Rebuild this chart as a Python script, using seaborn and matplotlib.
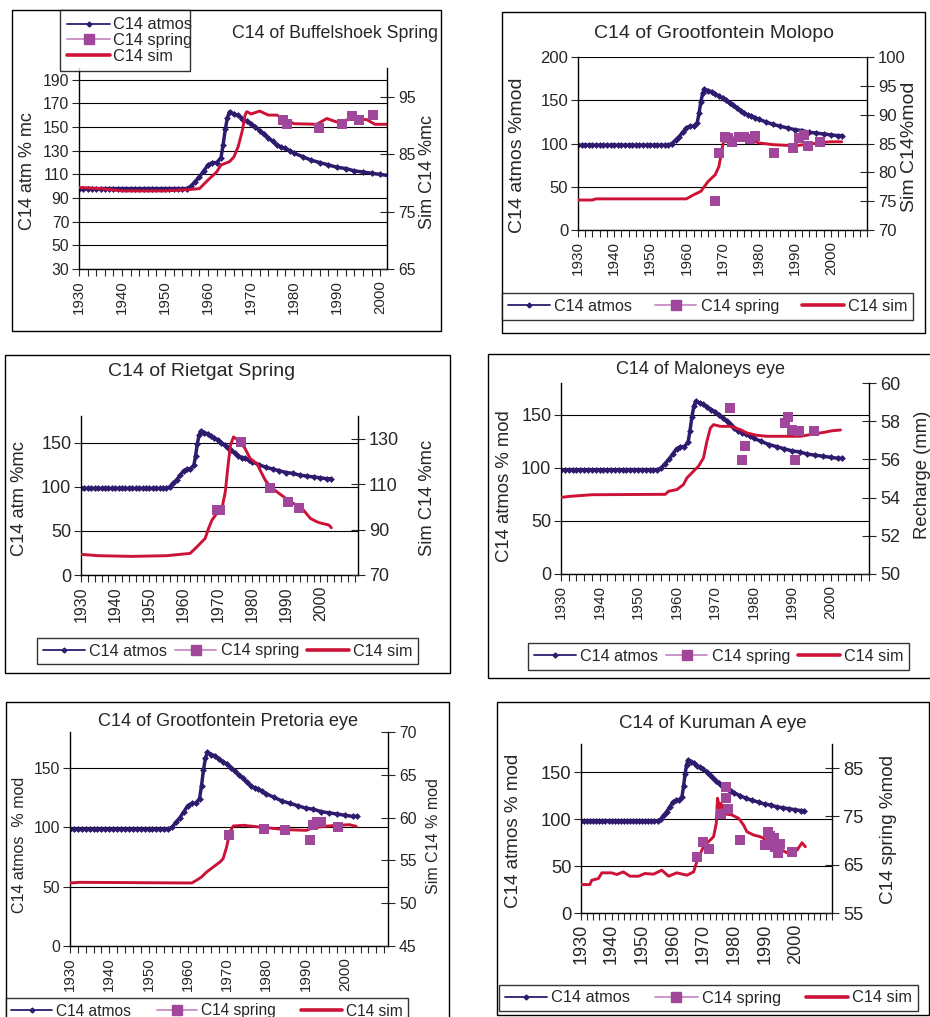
"""
C14 of six springs: atmospheric C14, measured spring C14 and simulated C14.
Six boxed panels, each with a twin y-axis.
"""

import matplotlib
matplotlib.use('Agg')
import matplotlib.pyplot as plt
from matplotlib.lines import Line2D
from matplotlib.patches import Rectangle
from matplotlib.ticker import MultipleLocator
import seaborn as sns

# ---------------------------------------------------------------- data
# atmospheric C14 (% modern), shared by all panels
atmos_year = [1930, 1931, 1932, 1933, 1934, 1935, 1936, 1937, 1938, 1939,
              1940, 1941, 1942, 1943, 1944, 1945, 1946, 1947, 1948, 1949,
              1950, 1951, 1952, 1953, 1954, 1955, 1956, 1957, 1958, 1959,
              1960, 1961, 1962, 1963, 1963.5, 1964, 1964.5, 1965, 1966, 1967,
              1968, 1969, 1970, 1971, 1972, 1973, 1974, 1975, 1976, 1977,
              1978, 1979, 1980, 1982, 1984, 1986, 1988, 1990, 1992, 1994,
              1996, 1998, 2000, 2002, 2003]
atmos_value = [98, 98, 98, 98, 98, 98, 98, 98, 98, 98,
               98, 98, 98, 98, 98, 98, 98, 98, 98, 98,
               98, 98, 98, 98, 98, 98, 100, 104, 108, 113,
               118, 120, 120, 124, 135, 148, 158, 163, 161, 160,
               157, 155, 153, 150, 147, 144, 141, 138, 135, 133,
               132, 130, 128, 125, 122, 120, 118, 116, 115, 113,
               112, 111, 110, 109, 109]

# Buffelshoek Spring
buff_sim_year = [1930, 1935, 1940, 1950, 1955, 1958, 1960, 1962, 1963, 1965,
                 1966, 1967, 1968, 1968.6, 1969, 1970, 1972, 1974, 1976, 1976.7,
                 1980, 1985.3, 1987.6, 1989.9, 1994, 1996.9, 1998.8, 2001.6]
buff_sim_value = [79.2, 79.0, 78.6, 78.6, 78.8, 79.0, 80.5, 81.9, 83.1, 83.7,
                  84.5, 86.3, 89.2, 91.8, 92.4, 92.0, 92.5, 91.8, 91.8, 91.5,
                  90.3, 90.2, 91.2, 90.6, 91.2, 91.0, 90.2, 90.2]
buff_spring_year = [1977.4, 1978.3, 1985.7, 1991.1, 1993.4, 1995.0, 1998.4]
buff_spring_value = [90.9, 90.3, 89.6, 90.3, 91.6, 91.0, 91.9]

# Grootfontein Molopo
molo_sim_year = [1930, 1934, 1935, 1960, 1962, 1964, 1966, 1968, 1969, 1969.5,
                 1970, 1970.5, 1972, 1975, 1978, 1980, 1984, 1990, 1994, 1998,
                 2000, 2003]
molo_sim_value = [75.2, 75.2, 75.4, 75.4, 76.1, 76.7, 78.4, 79.6, 81.0, 82.7,
                  84.5, 85.9, 86.1, 85.7, 85.6, 85.1, 84.8, 84.6, 84.9, 85.2,
                  85.3, 85.3]
molo_spring_year = [1967.9, 1969.0, 1970.6, 1971.4, 1972.7, 1974.6, 1976.0,
                    1977.6, 1978.9, 1984.3, 1989.4, 1991.2, 1992.6, 1993.7, 1997.1]
molo_spring_value = [75.0, 83.4, 86.2, 86.0, 85.2, 86.1, 86.1,
                     85.7, 86.3, 83.4, 84.3, 85.9, 86.5, 84.5, 85.3]

# Rietgat Spring
riet_sim_year = [1930, 1935, 1945, 1955, 1959.1, 1961.9, 1963.9, 1966.3, 1967.3,
                 1968.3, 1969.7, 1971.2, 1972.2, 1972.9, 1973.7, 1974.6, 1976.6,
                 1978.0, 1979.5, 1981.5, 1982.4, 1983.9, 1985.4, 1987.3, 1989.3,
                 1991.2, 1993.2, 1995.1, 1997.1, 1999.0, 2000.5, 2002.5, 2003.2]
riet_sim_value = [79.1, 78.5, 78.2, 78.5, 79.1, 79.5, 82.4, 86.1, 90.5,
                  94.2, 97.1, 99.3, 106.6, 116.9, 127.1, 130.8, 128.6,
                  125.6, 121.2, 119.0, 116.1, 111.7, 108.8, 106.6, 104.4,
                  102.2, 100.7, 98.5, 94.9, 93.4, 92.7, 92.0, 90.8]
riet_spring_year = [1969.7, 1970.7, 1976.8, 1985.2, 1990.4, 1993.7]
riet_spring_value = [98.6, 98.6, 128.6, 108.1, 102.2, 99.6]

# Maloneys eye
malo_sim_year = [1930, 1932, 1938, 1955, 1957.1, 1957.9, 1960.1, 1961.8, 1962.7,
                 1964.4, 1965.7, 1967.0, 1967.9, 1968.8, 1969.6, 1971.4, 1974.0,
                 1976.6, 1978.3, 1980.9, 1983.5, 1988.7, 1992.2, 1995.7, 1998.7,
                 2000.4, 2002.6]
malo_sim_value = [54.01, 54.06, 54.15, 54.17, 54.17, 54.33, 54.42, 54.68, 55.03,
                  55.38, 55.64, 56.07, 56.95, 57.64, 57.82, 57.73, 57.73,
                  57.56, 57.38, 57.26, 57.21, 57.21, 57.21, 57.33, 57.43,
                  57.50, 57.54]
malo_spring_year = [1973.8, 1977.0, 1977.9, 1988.3, 1988.9, 1990.0, 1990.9, 1991.8, 1995.7]
malo_spring_value = [58.69, 55.99, 56.68, 57.91, 58.20, 57.56, 55.99, 57.47, 57.50]

# Grootfontein Pretoria eye
pret_sim_year = [1930, 1932.5, 1961.0, 1962.2, 1963.5, 1964.8, 1966.5, 1968.2,
                 1969.0, 1969.9, 1970.7, 1971.6, 1974.1, 1976.6, 1980.0, 1985.1,
                 1990.2, 1991.9, 1994.9, 1997.9, 2001.2, 2002.9]
pret_sim_value = [52.36, 52.44, 52.36, 52.67, 53.06, 53.64, 54.23, 54.81,
                  55.20, 56.57, 58.32, 59.02, 59.10, 58.98, 58.82, 58.59,
                  58.51, 58.82, 58.98, 59.10, 59.17, 58.98]
pret_spring_year = [1970.5, 1979.4, 1984.7, 1991.1, 1991.9, 1992.9, 1994.0, 1998.3]
pret_spring_value = [57.93, 58.71, 58.51, 57.42, 59.10, 59.49, 59.49, 58.90]

# Kuruman A eye
kuru_sim_year = [1930, 1932.9, 1933.5, 1935.7, 1936.8, 1940.0, 1941.7, 1943.8,
                 1946.0, 1948.8, 1950.9, 1953.7, 1956.4, 1958.6, 1961.3, 1964.6,
                 1966.8, 1967.8, 1970.0, 1972.2, 1973.3, 1974.2, 1974.6, 1975.3,
                 1975.7, 1977.1, 1979.3, 1981.5, 1983.1, 1984.2, 1986.4, 1988.6,
                 1990.7, 1992.9, 1995.1, 1997.3, 1998.9, 2000.6, 2002.2, 2003.3]
kuru_sim_value = [60.89, 60.89, 61.79, 62.14, 63.32, 63.32, 62.97, 63.52,
                  62.62, 62.62, 63.18, 63.04, 63.87, 62.62, 63.32, 62.83,
                  63.52, 65.60, 68.72, 70.10, 70.80, 73.57, 78.77, 76.69,
                  77.73, 75.51, 75.30, 74.61, 73.23, 71.84, 71.15, 70.80,
                  70.10, 68.72, 68.17, 67.47, 67.47, 68.03, 69.55, 68.72]
kuru_spring_year = [1967.8, 1970.0, 1971.7, 1975.7, 1977.4, 1977.4, 1977.9, 1981.8,
                    1990.2, 1991.0, 1991.8, 1992.9, 1993.5, 1994.3, 1995.1, 1998.9]
kuru_spring_value = [66.64, 69.76, 68.17, 75.51, 81.06, 78.77, 76.48, 70.11,
                     69.07, 71.84, 70.94, 70.45, 68.72, 67.47, 69.28, 67.54]

# ---------------------------------------------------------------- style
ATMOS_COLOR = '#2E1B6E'
SPRING_COLOR = '#A0479C'
SPRING_LINE = '#C98BC6'
SIM_COLOR = '#CC1236'

W, H = 930, 1017

sns.set_style('white')
plt.rcParams['font.family'] = ['Liberation Sans', 'DejaVu Sans']
plt.rcParams['axes.linewidth'] = 1.0


def frac_rect(left, top, right, bottom):
    return [left / W, 1 - bottom / H, (right - left) / W, (bottom - top) / H]


def add_box(fig, left, top, right, bottom):
    fig.add_artist(Rectangle((left / W, 1 - bottom / H), (right - left) / W,
                             (bottom - top) / H, transform=fig.transFigure,
                             fill=False, edgecolor='black', linewidth=1.0))


def legend_handles():
    return [
        Line2D([], [], color=ATMOS_COLOR, lw=1.3, marker='D', markersize=2.5),
        Line2D([], [], color=SPRING_LINE, lw=1.3, marker='s', markersize=7,
               markerfacecolor=SPRING_COLOR, markeredgecolor=SPRING_COLOR),
        Line2D([], [], color=SIM_COLOR, lw=2.6),
    ]


LABELS = ['C14 atmos', 'C14 spring', 'C14 sim']

panels = [
    dict(box=(12, 10, 441, 331), axes=(79, 68, 387, 269), xmax=2001.6,
         ylim=(30, 200), yticks=range(30, 200, 20), y2lim=(65, 100), y2ticks=range(65, 100, 10),
         sim=(buff_sim_year, buff_sim_value), spring=(buff_spring_year, buff_spring_value),
         title='C14 of Buffelshoek Spring', title_xy=(335, 34), title_fs=12.8,
         ylabel='C14 atm % mc', ylabel_xy=(27, 171), y2label='Sim C14 %mc', y2label_xy=(427, 172),
         label_fs=13, tick_fs=11.3, xtick_fs=10.8,
         legend=(60, 10, 190, 71), legend_vertical=True, legend_fs=11.8),
    dict(box=(502, 12, 925, 333), axes=(578, 57, 867, 230), xmax=2010,
         ylim=(0, 200), yticks=range(0, 201, 50), y2lim=(70, 100), y2ticks=range(70, 101, 5),
         sim=(molo_sim_year, molo_sim_value), spring=(molo_spring_year, molo_spring_value),
         title='C14 of Grootfontein Molopo', title_xy=(714, 34), title_fs=14,
         ylabel='C14 atmos %mod', ylabel_xy=(517, 155), y2label='Sim C14%mod', y2label_xy=(909, 147),
         label_fs=14, tick_fs=12, xtick_fs=11,
         legend=(502, 288, 913, 325), legend_vertical=False, legend_fs=11.6),
    dict(box=(5, 355, 450, 673), axes=(81, 416, 358, 575), xmax=2011,
         ylim=(0, 180), yticks=range(0, 151, 50), y2lim=(70, 140), y2ticks=range(70, 131, 20),
         sim=(riet_sim_year, riet_sim_value), spring=(riet_spring_year, riet_spring_value),
         title='C14 of Rietgat Spring', title_xy=(202, 372), title_fs=14,
         ylabel='C14 atm %mc', ylabel_xy=(20, 499), y2label='Sim C14 %mc', y2label_xy=(427, 498),
         label_fs=13.2, tick_fs=13, xtick_fs=11.5,
         legend=(37, 635, 418, 667), legend_vertical=False, legend_fs=11.6),
    dict(box=(488, 354, 940, 678), axes=(561, 383, 869, 574), xmax=2010,
         ylim=(0, 180), yticks=range(0, 151, 50), y2lim=(50, 60), y2ticks=range(50, 61, 2),
         sim=(malo_sim_year, malo_sim_value), spring=(malo_spring_year, malo_spring_value),
         title='C14 of Maloneys eye', title_xy=(700, 369), title_fs=13,
         ylabel='C14 atmos % mod', ylabel_xy=(504, 486), y2label='Recharge (mm)', y2label_xy=(922, 475),
         label_fs=13.3, tick_fs=13, xtick_fs=11,
         legend=(528, 640, 909, 673), legend_vertical=False, legend_fs=11.6),
    dict(box=(6, 702, 449, 1030), axes=(70, 732, 388, 946), xmax=2011,
         ylim=(0, 180), yticks=range(0, 151, 50), y2lim=(45, 70), y2ticks=range(45, 71, 5),
         sim=(pret_sim_year, pret_sim_value), spring=(pret_spring_year, pret_spring_value),
         title='C14 of Grootfontein Pretoria eye', title_xy=(228, 722), title_fs=13.1,
         ylabel='C14 atmos  % mod', ylabel_xy=(19, 845), y2label='Sim C14 % mod', y2label_xy=(433, 836),
         label_fs=11.5, tick_fs=11.3, xtick_fs=10.8,
         legend=(6, 996, 408, 1026), legend_vertical=False, legend_fs=11.2),
    dict(box=(497, 702, 929, 1015), axes=(581, 744, 832, 913), xmax=2012,
         ylim=(0, 180), yticks=range(0, 151, 50), y2lim=(55, 90), y2ticks=range(55, 86, 10),
         sim=(kuru_sim_year, kuru_sim_value), spring=(kuru_spring_year, kuru_spring_value),
         title='C14 of Kuruman A eye', title_xy=(713, 723), title_fs=13.5,
         ylabel='C14 atmos % mod', ylabel_xy=(513, 831), y2label='C14 spring %mod', y2label_xy=(888, 829),
         label_fs=13.6, tick_fs=13.2, xtick_fs=13,
         legend=(499, 983, 918, 1013), legend_vertical=False, legend_fs=11.8),
]


def draw_panel(fig, p):
    add_box(fig, *p['box'])
    ax = fig.add_axes(frac_rect(*p['axes']))
    ax2 = ax.twinx()

    sns.lineplot(x=atmos_year, y=atmos_value, ax=ax, color=ATMOS_COLOR, lw=2.5,
                 marker='D', markersize=3.5, markeredgewidth=0, estimator=None,
                 sort=False, legend=False)
    sns.lineplot(x=p['sim'][0], y=p['sim'][1], ax=ax2, color=SIM_COLOR, lw=2.1,
                 estimator=None, sort=False, legend=False, zorder=2)
    sns.scatterplot(x=p['spring'][0], y=p['spring'][1], ax=ax2, marker='s', s=48,
                    color=SPRING_COLOR, linewidth=0, legend=False, zorder=3)

    ax.set_xlim(1930, p['xmax'])
    ax.set_ylim(*p['ylim'])
    ax.set_yticks(list(p['yticks']))
    ax2.set_ylim(*p['y2lim'])
    ax2.set_yticks(list(p['y2ticks']))
    ax.xaxis.set_major_locator(MultipleLocator(10))
    ax.xaxis.set_minor_locator(MultipleLocator(2))
    ax.set_xticks(range(1930, 2001, 10))
    ax.set_xticklabels([str(y) for y in range(1930, 2001, 10)], rotation=90)
    ax.set_xlabel('')
    ax.set_ylabel('')
    ax2.set_ylabel('')

    ax.grid(axis='y', color='black', linewidth=0.8)
    ax.grid(axis='x', visible=False)
    ax.set_axisbelow(True)

    for name in ('top', 'right'):
        ax.spines[name].set_visible(False)
    for name in ('top', 'left', 'bottom'):
        ax2.spines[name].set_visible(False)
    for a in (ax, ax2):
        for s in a.spines.values():
            s.set_color('black')

    ax.tick_params(axis='y', direction='out', length=5, width=0.8, labelsize=p['tick_fs'],
                   left=True, pad=2)
    ax.tick_params(axis='x', which='both', direction='out', length=5, width=0.8,
                   labelsize=p['xtick_fs'], bottom=True, pad=3)
    ax2.tick_params(axis='y', direction='inout', length=10, width=0.8,
                    labelsize=p['tick_fs'], right=True, pad=3)

    fig.text(p['title_xy'][0] / W, 1 - p['title_xy'][1] / H, p['title'],
             ha='center', va='center', fontsize=p['title_fs'])
    fig.text(p['ylabel_xy'][0] / W, 1 - p['ylabel_xy'][1] / H, p['ylabel'],
             ha='center', va='center', rotation=90, fontsize=p['label_fs'])
    fig.text(p['y2label_xy'][0] / W, 1 - p['y2label_xy'][1] / H, p['y2label'],
             ha='center', va='center', rotation=90, fontsize=p['label_fs'])

    left, top, right, bottom = p['legend']
    if p['legend_vertical']:
        leg = fig.legend(legend_handles(), LABELS, loc='upper left', mode='expand',
                         bbox_to_anchor=(left / W, 1 - bottom / H, (right - left) / W,
                                         (bottom - top) / H), ncol=1,
                         fontsize=p['legend_fs'], handlelength=2.6, handletextpad=0.2,
                         labelspacing=0.05, borderpad=0.45, borderaxespad=0)
    else:
        leg = fig.legend(legend_handles(), LABELS, loc='center', mode='expand',
                         bbox_to_anchor=(left / W, 1 - bottom / H, (right - left) / W,
                                         (bottom - top) / H),
                         ncol=3, fontsize=p['legend_fs'], handlelength=2.6,
                         handletextpad=0.25, columnspacing=1.0, borderpad=0.35,
                         borderaxespad=0)
    frame = leg.get_frame()
    frame.set_edgecolor('black')
    frame.set_linewidth(1.0)
    frame.set_boxstyle('square', pad=0)


def main():
    fig = plt.figure(figsize=(W / 100, H / 100), dpi=100)
    fig.patch.set_facecolor('white')
    for p in panels:
        draw_panel(fig, p)
    fig.savefig('out.png', dpi=100)
    plt.close(fig)
    print('Saved: out.png')


if __name__ == '__main__':
    main()
